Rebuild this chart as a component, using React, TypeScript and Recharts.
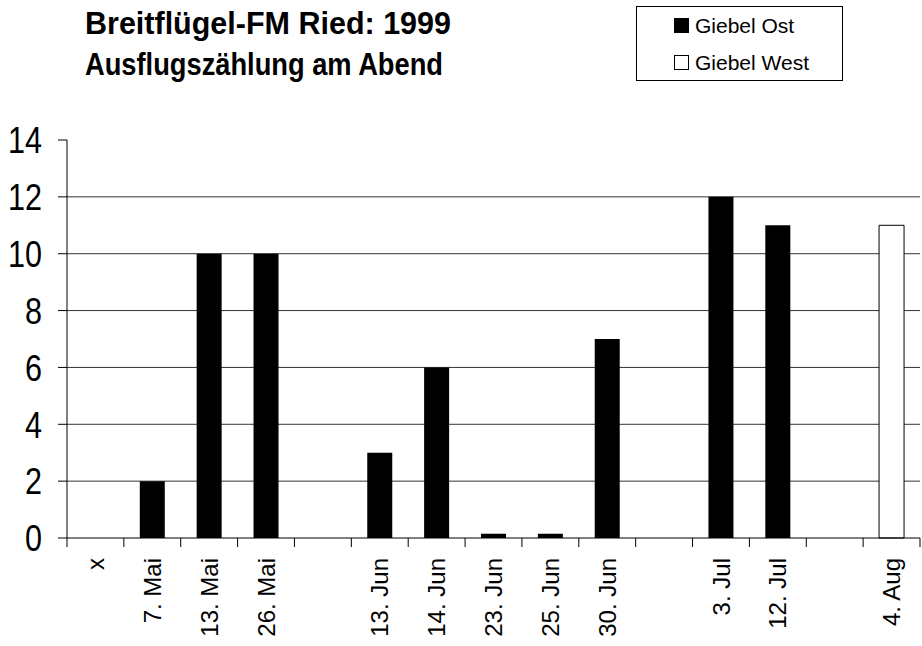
import { Bar, BarChart, CartesianGrid, Legend, XAxis, YAxis } from "recharts";

// Ausflugszählung am Abend, Breitflügel-FM Ried 1999
const dates = ["x", "7. Mai", "13. Mai", "26. Mai", "", "13. Jun", "14. Jun", "23. Jun", "25. Jun", "30. Jun", "", "3. Jul", "12. Jul", "", "4. Aug"];
const giebelOst = [0, 2, 10, 10, null, 3, 6, 0.15, 0.15, 7, null, 12, 11, null, null];
const giebelWest = [null, null, null, null, null, null, null, null, null, null, null, null, null, null, 11];
const yTicks = [0, 2, 4, 6, 8, 10, 12, 14];

const data = dates.map((d, i) => ({ date: d, ost: giebelOst[i], west: giebelWest[i] }));

const W = 922;
const H = 646;
const LEFT = 67;
const RIGHT = 2;
const BAND = (W - LEFT - RIGHT) / dates.length;
const FONT = "'Liberation Sans', Arial, sans-serif";

function DateTick(props: any) {
  const { x, y, payload, index } = props;
  const last = index === dates.length - 1;
  return (
    <g>
      <line x1={x - BAND / 2} x2={x - BAND / 2} y1={y - 8} y2={y + 1} stroke="#000" />
      {last && <line x1={x + BAND / 2} x2={x + BAND / 2} y1={y - 8} y2={y + 1} stroke="#000" />}
      <text
        x={x}
        y={y + 12}
        dy="0.36em"
        transform={`rotate(-90, ${x}, ${y + 12})`}
        textAnchor="end"
        fontSize={24}
        fontFamily={FONT}
        fill="#000"
      >
        {payload.value}
      </text>
    </g>
  );
}

function ValueTick(props: any) {
  const { x, y, payload } = props;
  const s = String(payload.value);
  return (
    <text
      x={x}
      y={y}
      dy="0.36em"
      textAnchor="end"
      fontSize={37}
      fontFamily={FONT}
      fill="#000"
      textLength={17 * s.length}
      lengthAdjust="spacingAndGlyphs"
    >
      {s}
    </text>
  );
}

function LegendBox() {
  const row = (fill: string, label: string) => (
    <div style={{ display: "flex", alignItems: "center", height: 37 }}>
      <span style={{ width: 13, height: 13, background: fill, border: "1px solid #000", marginRight: 6 }} />
      <span style={{ fontSize: 21, fontFamily: FONT, color: "#000", lineHeight: "21px" }}>{label}</span>
    </div>
  );
  return (
    <div style={{ border: "1px solid #000", width: 207, height: 75, boxSizing: "border-box", padding: "0 0 0 37px" }}>
      {row("#000", "Giebel Ost")}
      {row("#fff", "Giebel West")}
    </div>
  );
}

export default function App() {
  return (
    <div style={{ position: "relative", width: W, height: H, background: "#fff" }}>
      <style>{`body{margin:0}`}</style>
      <svg width={470} height={100} style={{ position: "absolute", left: 0, top: 0, overflow: "visible" }}>
        <text x={85} y={34} fontSize={31} fontWeight="bold" fontFamily={FONT} textLength={366} lengthAdjust="spacingAndGlyphs">
          Breitflügel-FM Ried: 1999
        </text>
        <text x={85} y={75} fontSize={31} fontWeight="bold" fontFamily={FONT} textLength={358} lengthAdjust="spacingAndGlyphs">
          Ausflugszählung am Abend
        </text>
      </svg>
      <BarChart
        width={W}
        height={H}
        data={data}
        margin={{ top: 140, right: RIGHT, bottom: 0, left: 0 }}
        barCategoryGap="28%"
      >
        <CartesianGrid vertical={false} stroke="#333" horizontalValues={[2, 4, 6, 8, 10, 12]} />
        <XAxis
          dataKey="date"
          interval={0}
          tickLine={false}
          axisLine={{ stroke: "#000" }}
          tick={<DateTick />}
          height={108}
        />
        <YAxis
          width={LEFT}
          domain={[0, 14]}
          ticks={yTicks}
          interval={0}
          tickSize={9}
          tickMargin={16}
          axisLine={{ stroke: "#000" }}
          tickLine={{ stroke: "#000" }}
          tick={<ValueTick />}
        />
        <Legend
          layout="vertical"
          align="center"
          verticalAlign="middle"
          content={<LegendBox />}
          wrapperStyle={{ left: 636, top: 6, width: 207, height: 75 }}
        />
        <Bar dataKey="ost" name="Giebel Ost" stackId="a" fill="#000" isAnimationActive={false} />
        <Bar dataKey="west" name="Giebel West" stackId="a" fill="#fff" stroke="#000" strokeWidth={1} isAnimationActive={false} />
      </BarChart>
    </div>
  );
}
